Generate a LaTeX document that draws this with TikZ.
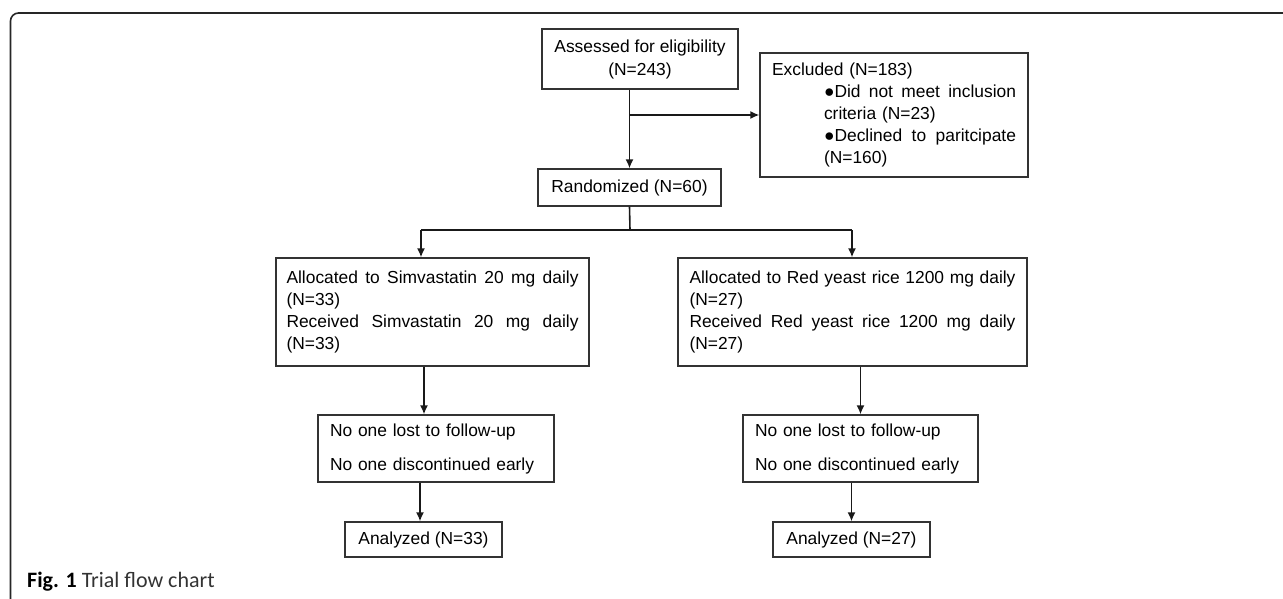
\documentclass[tikz,border=0pt]{standalone}
\usepackage{fontspec}
\setmainfont{Liberation Sans}
\newfontfamily\capfont{Carlito}
\usetikzlibrary{arrows.meta,calc}
\newcommand{\bxfont}{\fontsize{17.4}{22}\selectfont}
\newcommand{\sline}[2]{\leavevmode\hbox to #1{\spaceskip=\fontdimen2\font plus 1fil\relax #2}}
\begin{document}
\begin{tikzpicture}[x=1pt,y=-1pt,
  box/.style={draw=black!80, line width=1.3pt, inner sep=0pt, font=\bxfont, text=black},
  arr/.style={-{Latex[length=9pt,width=8pt]}, line width=1.6pt, draw=black!90},
  con/.style={line width=1.6pt, draw=black!90}]
\useasboundingbox (0,0) rectangle (1283,599);
% frame
\draw[line width=1.6pt, black!85, rounded corners=8pt] (10.5,599) -- (10.5,13) -- (1283,13);
% boxes
\node[box, minimum width=196pt, minimum height=60pt, align=center] (assess) at (640,59)
  {Assessed for eligibility\\[1pt](N=243)};
\node[box, minimum width=268pt, minimum height=124pt, text width=244pt, align=left] (excl) at (894,115)
  {Excluded (N=183)\\
   \hspace*{52pt}\sline{192pt}{●Did not meet inclusion}\\
   \hspace*{52pt}criteria (N=23)\\
   \hspace*{52pt}\sline{192pt}{●Declined to paritcipate}\\
   \hspace*{52pt}(N=160)};
\node[box, minimum width=183pt, minimum height=37pt] (rand) at (629.5,187.5) {Randomized (N=60)};
\node[box, minimum width=313pt, minimum height=108pt, text width=292pt, align=left] (allocL) at (432.5,312)
  {\sline{292pt}{Allocated to Simvastatin 20 mg daily}\\
   (N=33)\\
   \sline{292pt}{Received Simvastatin 20 mg daily}\\
   (N=33)};
\node[box, minimum width=349pt, minimum height=108pt, text width=326pt, align=left] (allocR) at (852.5,312)
  {\sline{326pt}{Allocated to Red yeast rice 1200 mg daily}\\
   (N=27)\\
   \sline{326pt}{Received Red yeast rice 1200 mg daily}\\
   (N=27)};
\node[box, minimum width=236pt, minimum height=67pt, text width=212pt, align=left] (noneL) at (436,448.5)
  {No one lost to follow-up\\[12pt]No one discontinued early};
\node[box, minimum width=235pt, minimum height=67pt, text width=211pt, align=left] (noneR) at (860.5,448.5)
  {No one lost to follow-up\\[12pt]No one discontinued early};
\node[box, minimum width=157pt, minimum height=35pt] (anaL) at (423.5,539.5) {Analyzed (N=33)};
\node[box, minimum width=157pt, minimum height=35pt] (anaR) at (851.5,539.5) {Analyzed (N=27)};
% caption
\node[anchor=base west, inner sep=0pt, font=\capfont\fontsize{22}{25}\selectfont] (cap) at (27,587)
  {\textbf{Fig. 1} \textcolor{black!80}{Trial flow chart}};
% connectors
\coordinate (split) at (630,230);
\coordinate (jL) at (421,230);
\coordinate (jR) at (852,230);
\coordinate (xL) at (424,0);
\coordinate (xL2) at (420,0);
\draw[arr] (assess.south -| rand.north) -- (rand.north);
\draw[arr] (excl.west -| rand.north) -- (excl.west);
\draw[con] (rand.south) -- (split);
\draw[con] (jL) -- (jR);
\draw[arr] (jL) -- (jL |- allocL.north);
\draw[arr] (jR) -- (jR |- allocR.north);
\draw[arr] (allocL.south -| xL) -- (noneL.north -| xL);
\draw[arr] (allocR.south -| noneR.north) -- (noneR.north);
\draw[arr] (noneL.south -| xL2) -- (anaL.north -| xL2);
\draw[arr] (noneR.south -| anaR.north) -- (anaR.north);
\end{tikzpicture}
\end{document}
